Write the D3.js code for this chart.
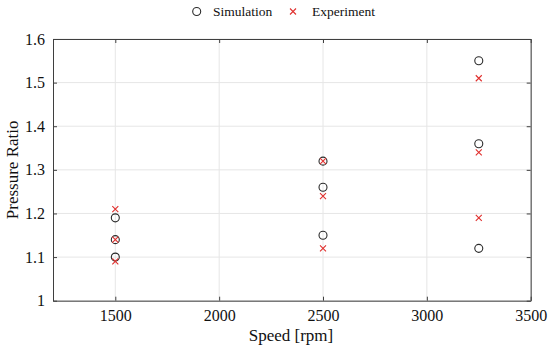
<!DOCTYPE html>
<html><head><meta charset="utf-8">
<script src="https://cdn.jsdelivr.net/npm/d3@7"></script>
<style>body{margin:0;background:#fff}svg{display:block}</style>
</head><body>
<script>
const speedsSim = [1500,1500,1500,2500,2500,2500,3250,3250,3250];
const simValues = [1.19,1.14,1.10,1.32,1.26,1.15,1.55,1.36,1.12];
const speedsExp = [1500,1500,1500,2500,2500,2500,3250,3250,3250];
const expValues = [1.21,1.14,1.09,1.32,1.24,1.12,1.51,1.34,1.19];
const xTicks = [1500,2000,2500,3000,3500];
const yTicks = [1,1.1,1.2,1.3,1.4,1.5,1.6];

const W=550,H=349;
const m={l:53,r:19.3,t:39,b:48.3};
const font='"Liberation Serif","DejaVu Serif",serif';
const svg=d3.select('body').append('svg').attr('width',W).attr('height',H);
const x=d3.scaleLinear().domain([1200,3500]).range([m.l,W-m.r]);
const y=d3.scaleLinear().domain([1,1.6]).range([H-m.b,m.t]);
const axisCol='#3f3f3f';

// grid
svg.append('g').selectAll('line').data(xTicks).join('line')
 .attr('x1',d=>x(d)).attr('x2',d=>x(d)).attr('y1',y(1)).attr('y2',y(1.6))
 .attr('stroke','#e6e6e6').attr('stroke-width',1);
svg.append('g').selectAll('line').data(yTicks).join('line')
 .attr('x1',x(1200)).attr('x2',x(3500)).attr('y1',d=>y(d)).attr('y2',d=>y(d))
 .attr('stroke','#e6e6e6').attr('stroke-width',1);

function style(g){
  g.select('.domain').attr('stroke',axisCol).attr('stroke-width',1);
  g.selectAll('.tick line').attr('stroke',axisCol);
  g.selectAll('.tick text').attr('font-family',font).attr('font-size',16).attr('fill','#111');
}
svg.append('g').attr('transform',`translate(0,${y(1)})`)
 .call(d3.axisBottom(x).tickValues(xTicks).tickSize(-4).tickPadding(9).tickSizeOuter(0).tickFormat(d3.format('d')))
 .call(style);
svg.append('g').attr('transform',`translate(0,${y(1.6)})`)
 .call(d3.axisTop(x).tickValues(xTicks).tickSize(-4).tickSizeOuter(0).tickFormat(''))
 .call(style);
svg.append('g').attr('transform',`translate(${x(1200)},0)`)
 .call(d3.axisLeft(y).tickValues(yTicks).tickSize(-4).tickPadding(8).tickSizeOuter(0).tickFormat(d=>d3.format('')(+d.toFixed(1))))
 .call(style);
svg.append('g').attr('transform',`translate(${x(3500)},0)`)
 .call(d3.axisRight(y).tickValues(yTicks).tickSize(-4).tickSizeOuter(0).tickFormat(''))
 .call(style);

// markers
const simCol='#2b2b2b', expCol='#e0302e';
svg.append('g').selectAll('circle').data(simValues).join('circle')
 .attr('cx',(d,i)=>x(speedsSim[i])).attr('cy',d=>y(d)).attr('r',4)
 .attr('fill','none').attr('stroke',simCol).attr('stroke-width',1.1);
const cs=3;
svg.append('g').selectAll('path').data(expValues).join('path')
 .attr('d',(d,i)=>{const cx=x(speedsExp[i]),cy=y(d);return `M${cx-cs},${cy-cs}L${cx+cs},${cy+cs}M${cx-cs},${cy+cs}L${cx+cs},${cy-cs}`;})
 .attr('stroke',expCol).attr('stroke-width',1.1).attr('fill','none');

// axis labels
svg.append('text').attr('x',291).attr('y',341).attr('text-anchor','middle')
 .attr('font-family',font).attr('font-size',17).attr('fill','#111').text('Speed [rpm]');
svg.append('text').attr('transform',`translate(18,${(y(1)+y(1.6))/2}) rotate(-90)`).attr('text-anchor','middle')
 .attr('font-family',font).attr('font-size',17).attr('fill','#111').text('Pressure Ratio');

// legend
const lg=svg.append('g');
lg.append('circle').attr('cx',196.7).attr('cy',11.5).attr('r',4).attr('fill','none').attr('stroke',simCol).attr('stroke-width',1.1);
lg.append('text').attr('x',213).attr('y',16).attr('font-family',font).attr('font-size',13.5).attr('fill','#111').text('Simulation');
lg.append('path').attr('d',`M${293-cs},${11.5-cs}L${293+cs},${11.5+cs}M${293-cs},${11.5+cs}L${293+cs},${11.5-cs}`).attr('stroke',expCol).attr('stroke-width',1.1);
lg.append('text').attr('x',312).attr('y',16).attr('font-family',font).attr('font-size',13.5).attr('fill','#111').text('Experiment');
</script>
</body></html>
